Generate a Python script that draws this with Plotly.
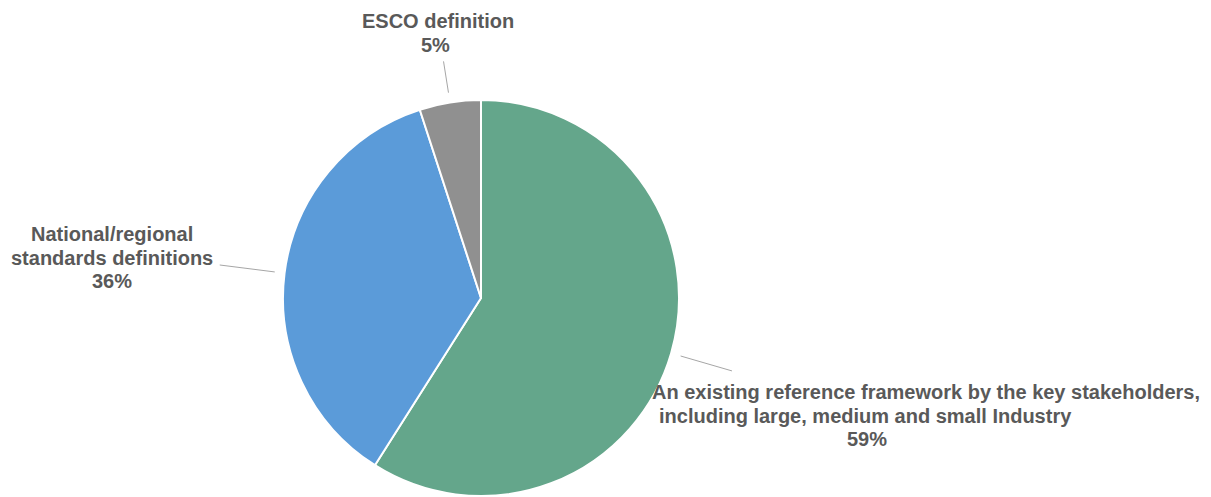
import math
import plotly.graph_objects as go

# ---- data ----
labels = [
    ["An existing reference framework by the key stakeholders,", "including large, medium and small Industry"],
    ["National/regional", "standards definitions"],
    ["ESCO definition"],
]
values = [59, 36, 5]

# ---- style ----
colors = ["#64A68B", "#5B9BD9", "#909090"]
W, H = 1211, 497
cx, cy, r = 481, 298, 198
leader_in = 1.05
leader_out = [1.32, 1.33, 1.21]
# first-line centre offset (px) from leader end, and per-line extra x shifts
label_off = [(194, 21), (-108, -31), (-6, -40)]
line_dx = [[0, -60, -59], [0, 0, 0], [0, -2]]
line_gap = 23.7
text_color = "#595959"
font_family = "Liberation Sans, Arial, sans-serif"
font_size = 20

fig = go.Figure()
fig.add_trace(go.Pie(
    labels=[" ".join(l) for l in labels],
    values=values,
    sort=False,
    direction="clockwise",
    rotation=0,
    marker=dict(colors=colors, line=dict(color="white", width=2)),
    textinfo="none",
    hoverinfo="label+percent",
    showlegend=False,
    domain=dict(x=[(cx - r) / W, (cx + r) / W], y=[1 - (cy + r) / H, 1 - (cy - r) / H]),
))

def px(x, y):
    return x / W, 1 - y / H

total = sum(values)
start = 0.0
shapes = []
annotations = []
for i, v in enumerate(values):
    frac = v / total
    mid = (start + frac / 2) * 2 * math.pi
    start += frac
    sx, sy = cx + leader_in * r * math.sin(mid), cy - leader_in * r * math.cos(mid)
    ex, ey = cx + leader_out[i] * r * math.sin(mid), cy - leader_out[i] * r * math.cos(mid)
    x0, y0 = px(sx, sy)
    x1, y1 = px(ex, ey)
    shapes.append(dict(type="line", xref="paper", yref="paper", x0=x0, y0=y0, x1=x1, y1=y1,
                       line=dict(color="#A6A6A6", width=1)))
    dx, dy = label_off[i]
    lines = labels[i] + [f"{round(frac * 100)}%"]
    for j, line in enumerate(lines):
        ax, ay = px(ex + dx + line_dx[i][j], ey + dy + j * line_gap)
        annotations.append(dict(
            x=ax, y=ay, xref="paper", yref="paper", xanchor="center", yanchor="middle",
            text=f"<b>{line}</b>", showarrow=False, align="center",
            font=dict(family=font_family, size=font_size, color=text_color),
        ))

fig.update_layout(
    width=W, height=H,
    margin=dict(l=0, r=0, t=0, b=0),
    paper_bgcolor="white", plot_bgcolor="white",
    shapes=shapes, annotations=annotations,
)
fig.write_html("out.html")
